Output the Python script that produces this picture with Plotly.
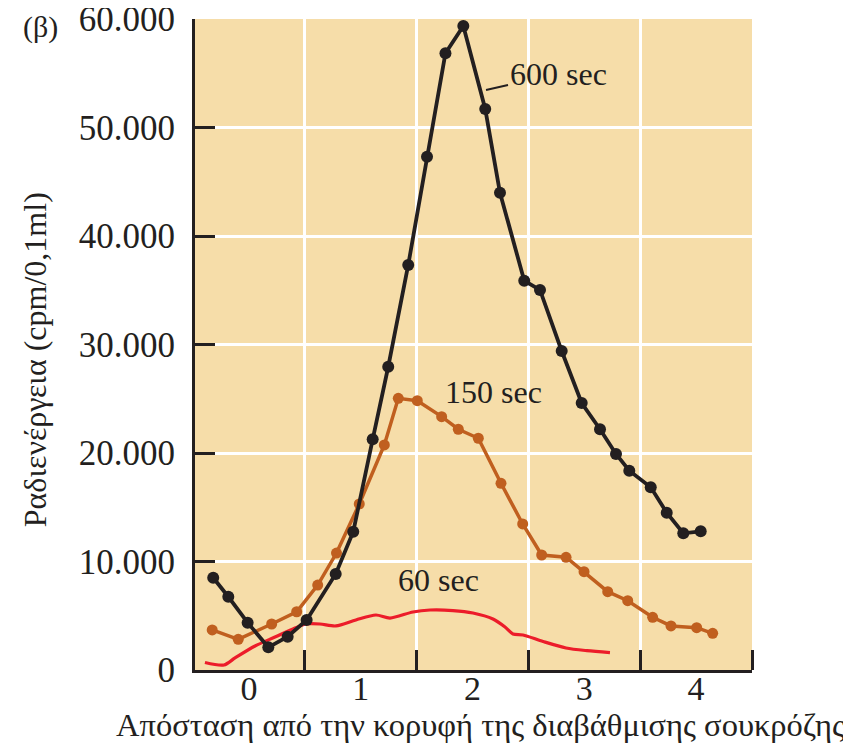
import plotly.graph_objects as go

# ---- data ----
x_600 = [-0.321, -0.186, -0.013, 0.172, 0.345, 0.515, 0.775, 0.932, 1.106, 1.245, 1.424,
         1.592, 1.757, 1.917, 2.113, 2.245, 2.462, 2.603, 2.797, 2.976, 3.140, 3.283,
         3.402, 3.594, 3.737, 3.885, 4.041]
y_600 = [8500, 6750, 4360, 2090, 3070, 4610, 8850, 12750, 21260, 27950, 37330,
         47310, 56840, 59360, 51710, 43990, 35880, 35030, 29400, 24610, 22190, 19910,
         18370, 16840, 14500, 12600, 12780]

x_150 = [-0.330, -0.097, 0.202, 0.426, 0.614, 0.782, 0.986, 1.210, 1.335, 1.505, 1.723,
         1.872, 2.051, 2.254, 2.448, 2.618, 2.836, 2.997, 3.209, 3.388, 3.611, 3.775,
         4.005, 4.148]
y_150 = [3690, 2830, 4240, 5370, 7830, 10780, 15300, 20740, 25040, 24820, 23350,
         22190, 21360, 17210, 13460, 10600, 10390, 9060, 7220, 6390, 4860, 4060,
         3900, 3380]

x_60 = [-0.395, -0.225, -0.126, 0.053, 0.232, 0.411, 0.509, 0.634, 0.777, 0.956, 1.135,
        1.261, 1.466, 1.619, 1.824, 2.003, 2.182, 2.290, 2.361, 2.451, 2.630, 2.836,
        3.023, 3.229]
y_60 = [690, 460, 1110, 2210, 3040, 3870, 4240, 4240, 4060, 4610, 5070,
        4790, 5350, 5530, 5480, 5250, 4700, 3960, 3320, 3230, 2630, 2030,
        1780, 1600]

x_tickvals = [0, 1, 2, 3, 4]
x_ticktext = ["0", "1", "2", "3", "4"]
x_gridvals = [0.5, 1.5, 2.5, 3.5, 4.5]
y_tickvals = [0, 10000, 20000, 30000, 40000, 50000, 60000]
y_ticktext = ["0", "10.000", "20.000", "30.000", "40.000", "50.000", "60.000"]

series_labels = ["600 sec", "150 sec", "60 sec"]

# ---- styles ----
BG = "#F6DDA9"
BLACK = "#231F20"
ORANGE = "#C05F1F"
RED = "#EC1C2A"
FONT = "Liberation Serif"

fig = go.Figure()
fig.add_trace(go.Scatter(x=x_60, y=y_60, mode="lines",
                         line=dict(color=RED, width=3.2, shape="spline", smoothing=0.8),
                         name=series_labels[2], hoverinfo="skip"))
fig.add_trace(go.Scatter(x=x_150, y=y_150, mode="lines+markers",
                         line=dict(color=ORANGE, width=3.5),
                         marker=dict(color=ORANGE, size=11),
                         name=series_labels[1]))
fig.add_trace(go.Scatter(x=x_600, y=y_600, mode="lines+markers",
                         line=dict(color=BLACK, width=3.8),
                         marker=dict(color=BLACK, size=12),
                         name=series_labels[0]))

fig.update_layout(
    width=843, height=745,
    margin=dict(l=187, r=99, t=11, b=83, autoexpand=False),
    paper_bgcolor="white",
    plot_bgcolor=BG,
    showlegend=False,
    font=dict(family=FONT, color=BLACK, size=30),
    xaxis=dict(
        range=[-0.484, 4.5], automargin=False,
        tickvals=x_tickvals, ticktext=x_ticktext,
        ticks="", showgrid=False, zeroline=False,
        showline=True, linecolor=BLACK, linewidth=3,
        tickfont=dict(family=FONT, size=34, color=BLACK),
        ticklabelstandoff=-14,
        minor=dict(tickmode="array", tickvals=x_gridvals, ticks="inside", ticklen=20,
                   tickwidth=2.5, tickcolor=BLACK, showgrid=True,
                   gridcolor="white", gridwidth=3),
    ),
    yaxis=dict(
        range=[0, 60000], automargin=False,
        tickvals=y_tickvals, ticktext=y_ticktext,
        ticks="inside", ticklen=20, tickwidth=3, tickcolor=BLACK,
        showgrid=True, gridcolor="white", gridwidth=3,
        zeroline=False,
        showline=True, linecolor=BLACK, linewidth=3,
        tickfont=dict(family=FONT, size=35, color=BLACK),
        ticklabelstandoff=10,
        ticklabeloverflow="allow",
    ),
)

# series labels
fig.add_annotation(x=2.12, y=53460, text=series_labels[0], showarrow=True,
                   ax=72, ay=-16, arrowhead=0, arrowwidth=2, arrowcolor=BLACK,
                   standoff=0, font=dict(family=FONT, size=32, color=BLACK),
                   xanchor="center", yanchor="middle")
fig.add_annotation(x=2.191, y=25620, text=series_labels[1], showarrow=False,
                   font=dict(family=FONT, size=32, color=BLACK))
fig.add_annotation(x=1.699, y=8300, text=series_labels[2], showarrow=False,
                   font=dict(family=FONT, size=32, color=BLACK))

# axis titles and panel label
fig.add_annotation(xref="paper", yref="paper", x=-0.287, y=0.476,
                   text="Ραδιενέργεια (cpm/0,1ml)", textangle=-90, showarrow=False,
                   font=dict(family=FONT, size=32, color=BLACK),
                   xanchor="center", yanchor="middle")
fig.add_annotation(xref="paper", yref="paper", x=0.512, y=-0.0845,
                   text="Απόσταση από την κορυφή της διαβάθμισης σουκρόζης", showarrow=False,
                   font=dict(family=FONT, size=32.5, color=BLACK),
                   xanchor="center", yanchor="middle")
fig.add_annotation(xref="paper", yref="paper", x=-0.278, y=0.988,
                   text="(β)", showarrow=False, borderpad=0,
                   font=dict(family=FONT, size=30, color=BLACK),
                   xanchor="center", yanchor="middle")

fig.write_html("out.html")
